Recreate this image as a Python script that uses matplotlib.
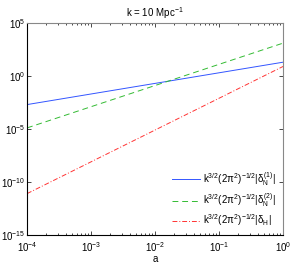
import matplotlib
matplotlib.use("Agg")
import matplotlib.pyplot as plt
from matplotlib.ticker import LogLocator, NullFormatter

# values (log-log straight lines)
a_vals = [1e-4, 1e-3, 1e-2, 1e-1, 1.0]
delta_n1 = [10**-2.7, 10**-1.7, 10**-0.7, 10**0.3, 10**1.3]
delta_n2 = [10**-4.9, 10**-2.9, 10**-0.9, 10**1.1, 10**3.1]
delta_h = [10**-11.1, 10**-8.1, 10**-5.1, 10**-2.1, 10**0.9]

labels = [r"k$^{3/2}$(2$\pi^2$)$^{-1/2}$|$\delta_N^{(1)}$|",
          r"k$^{3/2}$(2$\pi^2$)$^{-1/2}$|$\delta_N^{(2)}$|",
          r"k$^{3/2}$(2$\pi^2$)$^{-1/2}$|$\delta_H$|"]

plt.rcParams['font.family'] = 'Liberation Sans'
plt.rcParams['mathtext.fontset'] = 'custom'
plt.rcParams['mathtext.rm'] = 'Liberation Sans'
plt.rcParams['mathtext.it'] = 'Liberation Sans'

fig = plt.figure(figsize=(2.94, 2.64), dpi=100)
ax = fig.add_axes([0.092, 0.11, 0.871, 0.803])

ax.plot(a_vals, delta_n1, color='#3355ff', lw=0.7, label=labels[0])
ax.plot(a_vals, delta_n2, color='#33bb33', lw=0.7, ls=(0, (6, 4)), label=labels[1])
ax.plot(a_vals, delta_h, color='#ff3333', lw=0.7, ls=(0, (5, 2, 1, 2)), label=labels[2])

ax.set_xscale('log')
ax.set_yscale('log')
ax.set_xlim(1e-4, 1)
ax.set_ylim(1e-15, 1e5)
ax.set_yticks([1e-15, 1e-10, 1e-5, 1e0, 1e5])
ax.yaxis.set_minor_locator(plt.NullLocator())
ax.xaxis.set_minor_locator(LogLocator(base=10, subs=range(2, 10)))
ax.xaxis.set_minor_formatter(NullFormatter())
ax.tick_params(which='both', direction='in', top=True, right=True, labelsize=7, width=0.5)
ax.tick_params(axis='y', pad=1.5)
ax.tick_params(which='major', length=3)
ax.tick_params(which='minor', length=1.5)
for s in ['top', 'right']:
    ax.spines[s].set_color('#888888')
for s in ax.spines.values():
    s.set_linewidth(0.8)

ax.set_title(r"k = 10 Mpc$^{-1}$", fontsize=7, pad=4)
ax.set_xlabel("a", fontsize=7, labelpad=0)
ax.legend(loc='lower right', frameon=False, fontsize=7, handlelength=2.8,
          handletextpad=0.4, labelspacing=0.35, borderaxespad=0.3)

fig.savefig("out.png", dpi=100)
